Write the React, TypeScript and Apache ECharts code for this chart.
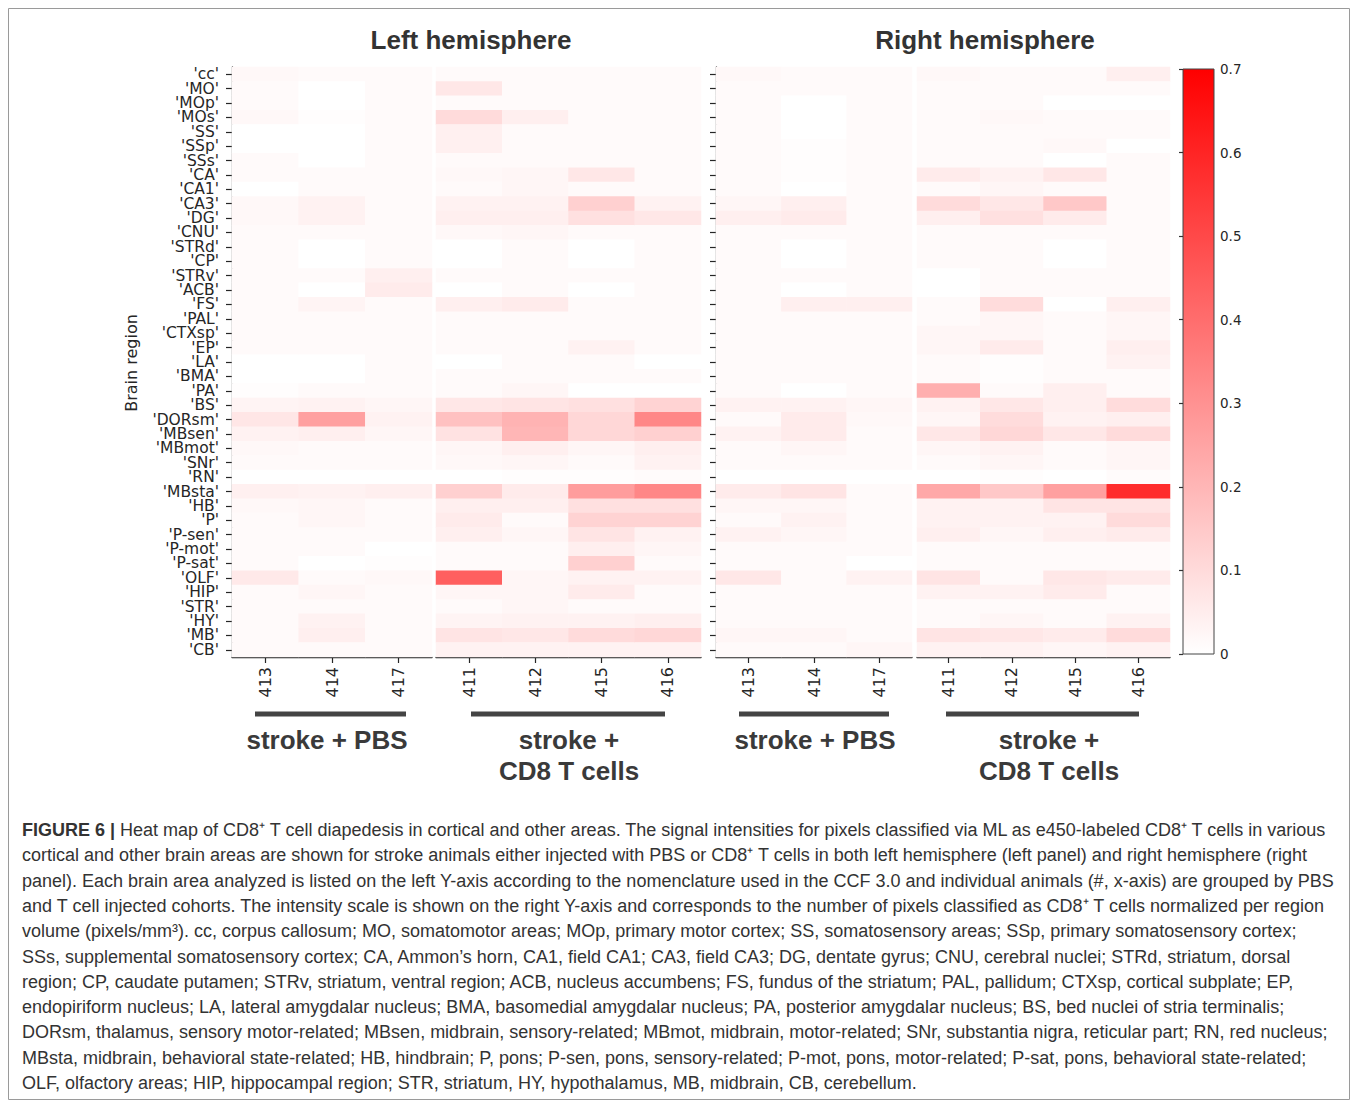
import React, { useEffect, useRef } from "react";
import * as echarts from "echarts";

// ---------- DATA ----------
const regions = [
  "cc", "MO", "MOp", "MOs", "SS", "SSp", "SSs", "CA", "CA1", "CA3", "DG", "CNU", "STRd", "CP",
  "STRv", "ACB", "FS", "PAL", "CTXsp", "EP", "LA", "BMA", "PA", "BS", "DORsm", "MBsen", "MBmot",
  "SNr", "RN", "MBsta", "HB", "P", "P-sen", "P-mot", "P-sat", "OLF", "HIP", "STR", "HY", "MB", "CB",
];
const pbsAnimals = ["413", "414", "417"];
const cd8Animals = ["411", "412", "415", "416"];

// Left hemisphere, stroke + PBS
const L413 = [0.02, 0.015, 0.015, 0.02, 0, 0, 0.015, 0.015, 0, 0.02, 0.02, 0.015, 0.015, 0.015, 0.015, 0.015, 0.015, 0.015, 0.015, 0.015,
  0, 0, 0.005, 0.03, 0.07, 0.035, 0.02, 0.015, 0, 0.04, 0.02, 0.015, 0.015, 0.015, 0.015, 0.06, 0.015, 0.015, 0.015, 0.015, 0.015];
const L414 = [0.015, 0, 0, 0.005, 0, 0, 0, 0.015, 0.015, 0.035, 0.035, 0.015, 0, 0, 0.015, 0, 0.03, 0.015, 0.015, 0.015,
  0, 0, 0.015, 0.035, 0.26, 0.045, 0.015, 0.015, 0, 0.035, 0.025, 0.025, 0.015, 0.015, 0, 0.015, 0.025, 0.015, 0.035, 0.045, 0.015];
const L417 = [0.015, 0.015, 0.015, 0.015, 0.015, 0.015, 0.015, 0.015, 0.015, 0.015, 0.015, 0.015, 0.015, 0.015, 0.045, 0.055, 0.015, 0.015, 0.015, 0.015,
  0.015, 0.015, 0.015, 0.025, 0.035, 0.025, 0.015, 0.015, 0, 0.045, 0.015, 0.015, 0.015, 0, 0.005, 0.02, 0.015, 0.015, 0.015, 0.015, 0.015];
// Left hemisphere, stroke + CD8 T cells
const L411 = [0.015, 0.065, 0.015, 0.1, 0.04, 0.04, 0.015, 0.02, 0.015, 0.035, 0.045, 0.02, 0, 0, 0.015, 0, 0.045, 0.015, 0.015, 0.015,
  0, 0.015, 0.015, 0.065, 0.17, 0.08, 0.025, 0.02, 0, 0.13, 0.045, 0.055, 0.045, 0.015, 0.015, 0.44, 0.025, 0.015, 0.03, 0.075, 0.035];
const L412 = [0.015, 0.015, 0.015, 0.045, 0.015, 0.015, 0.015, 0.025, 0.025, 0.035, 0.045, 0.025, 0.015, 0.015, 0.015, 0.015, 0.055, 0.015, 0.015, 0.015,
  0.015, 0.015, 0.025, 0.075, 0.21, 0.2, 0.045, 0.025, 0.005, 0.055, 0.045, 0.015, 0.025, 0.015, 0.015, 0.025, 0.025, 0.025, 0.035, 0.065, 0.035];
const L415 = [0.015, 0.015, 0.015, 0.015, 0.015, 0.015, 0.015, 0.065, 0.015, 0.13, 0.085, 0.015, 0, 0, 0.015, 0, 0.015, 0.015, 0.015, 0.035,
  0.015, 0.015, 0, 0.085, 0.11, 0.11, 0.025, 0.015, 0.005, 0.27, 0.085, 0.12, 0.075, 0.045, 0.13, 0.035, 0.055, 0.015, 0.035, 0.1, 0.035];
const L416 = [0.015, 0.015, 0.015, 0.015, 0.015, 0.015, 0.015, 0.015, 0.015, 0.035, 0.065, 0.015, 0.015, 0.015, 0.015, 0.015, 0.015, 0.015, 0.015, 0.015,
  0, 0.015, 0, 0.12, 0.33, 0.13, 0.045, 0.035, 0.01, 0.33, 0.085, 0.12, 0.035, 0.025, 0.015, 0.035, 0.015, 0.015, 0.045, 0.11, 0.035];
// Right hemisphere, stroke + PBS
const R413 = [0.02, 0.015, 0.015, 0.015, 0.015, 0.015, 0.015, 0.015, 0.015, 0.025, 0.045, 0.015, 0.015, 0.015, 0.015, 0.015, 0.015, 0.015, 0.015, 0.015,
  0.015, 0.015, 0.015, 0.035, 0.015, 0.035, 0.015, 0.015, 0, 0.055, 0.025, 0.015, 0.035, 0.015, 0.015, 0.065, 0.015, 0.015, 0.015, 0.025, 0.015];
const R414 = [0.015, 0.015, 0, 0, 0, 0.005, 0.005, 0.005, 0, 0.045, 0.055, 0.015, 0, 0, 0.015, 0, 0.045, 0.015, 0.015, 0.015,
  0.015, 0.015, 0, 0.035, 0.055, 0.055, 0.025, 0.015, 0, 0.075, 0.025, 0.035, 0.025, 0.015, 0.015, 0.015, 0.015, 0.015, 0.015, 0.025, 0.015];
const R417 = [0.015, 0.015, 0.015, 0.015, 0.015, 0.015, 0.015, 0.015, 0.015, 0.015, 0.015, 0.015, 0.015, 0.015, 0.015, 0.015, 0.045, 0.015, 0.015, 0.015,
  0.015, 0.015, 0.015, 0.025, 0.02, 0.015, 0.015, 0.015, 0, 0.015, 0.015, 0.015, 0.015, 0.015, 0, 0.035, 0.015, 0.015, 0.015, 0.015, 0.025];
// Right hemisphere, stroke + CD8 T cells
const R411 = [0.02, 0.015, 0.015, 0.015, 0.015, 0.015, 0.015, 0.055, 0.015, 0.1, 0.045, 0.015, 0.015, 0.015, 0, 0, 0.015, 0.015, 0.025, 0.025,
  0.015, 0.015, 0.22, 0.035, 0.025, 0.065, 0.025, 0.015, 0, 0.24, 0.035, 0.035, 0.045, 0.015, 0.015, 0.075, 0.035, 0.015, 0.015, 0.075, 0.035];
const R412 = [0.015, 0.015, 0.015, 0.02, 0.015, 0.015, 0.015, 0.035, 0.025, 0.065, 0.085, 0.015, 0.015, 0.015, 0.015, 0.015, 0.095, 0.025, 0.025, 0.055,
  0.005, 0.005, 0.015, 0.065, 0.095, 0.11, 0.035, 0.025, 0.005, 0.15, 0.035, 0.035, 0.025, 0.015, 0.015, 0.015, 0.035, 0.015, 0.025, 0.065, 0.035];
const R415 = [0.015, 0.015, 0, 0.015, 0.015, 0.02, 0, 0.065, 0.015, 0.15, 0.055, 0.015, 0, 0, 0.015, 0.015, 0, 0.015, 0.015, 0.015,
  0.015, 0.015, 0.045, 0.045, 0.035, 0.065, 0.015, 0.015, 0, 0.26, 0.075, 0.035, 0.045, 0.015, 0.015, 0.065, 0.055, 0.015, 0.015, 0.055, 0.025];
const R416 = [0.045, 0.015, 0, 0.015, 0.015, 0, 0.015, 0.015, 0.015, 0.015, 0.015, 0.015, 0.015, 0.015, 0.015, 0.015, 0.045, 0.025, 0.025, 0.045,
  0.035, 0.015, 0.015, 0.095, 0.045, 0.1, 0.025, 0.025, 0.01, 0.58, 0.075, 0.1, 0.055, 0.015, 0.015, 0.055, 0.015, 0.015, 0.035, 0.1, 0.035];

const scaleMin = 0;
const scaleMax = 0.7;
const scaleStep = 0.1;

const panelTitles = ["Left hemisphere", "Right hemisphere"];
const groupLabels = ["stroke + PBS", "stroke +\nCD8 T cells"];
const yAxisTitle = "Brain region";

const captionBold = "FIGURE 6 |";
const captionLines = [
  " Heat map of CD8\u207A T cell diapedesis in cortical and other areas. The signal intensities for pixels classified via ML as e450-labeled CD8\u207A T cells in various",
  "cortical and other brain areas are shown for stroke animals either injected with PBS or CD8\u207A T cells in both left hemisphere (left panel) and right hemisphere (right",
  "panel). Each brain area analyzed is listed on the left Y-axis according to the nomenclature used in the CCF 3.0 and individual animals (#, x-axis) are grouped by PBS",
  "and T cell injected cohorts. The intensity scale is shown on the right Y-axis and corresponds to the number of pixels classified as CD8\u207A T cells normalized per region",
  "volume (pixels/mm\u00B3). cc, corpus callosum; MO, somatomotor areas; MOp, primary motor cortex; SS, somatosensory areas; SSp, primary somatosensory cortex;",
  "SSs, supplemental somatosensory cortex; CA, Ammon\u2019s horn, CA1, field CA1; CA3, field CA3; DG, dentate gyrus; CNU, cerebral nuclei; STRd, striatum, dorsal",
  "region; CP, caudate putamen; STRv, striatum, ventral region; ACB, nucleus accumbens; FS, fundus of the striatum; PAL, pallidum; CTXsp, cortical subplate; EP,",
  "endopiriform nucleus; LA, lateral amygdalar nucleus; BMA, basomedial amygdalar nucleus; PA, posterior amygdalar nucleus; BS, bed nuclei of stria terminalis;",
  "DORsm, thalamus, sensory motor-related; MBsen, midbrain, sensory-related; MBmot, midbrain, motor-related; SNr, substantia nigra, reticular part; RN, red nucleus;",
  "MBsta, midbrain, behavioral state-related; HB, hindbrain; P, pons; P-sen, pons, sensory-related; P-mot, pons, motor-related; P-sat, pons, behavioral state-related;",
  "OLF, olfactory areas; HIP, hippocampal region; STR, striatum, HY, hypothalamus, MB, midbrain, CB, cerebellum.",
];

// ---------- LAYOUT ----------
const W = 1358;
const H = 1101;
const gridTop = 67;
const gridHeight = 590;
const grids = [
  { left: 232, width: 200 }, // left PBS
  { left: 436, width: 265 }, // left CD8
  { left: 716, width: 196 }, // right PBS
  { left: 917, width: 253 }, // right CD8
];
const cbar = { left: 1183, top: 69, width: 31, height: 585 };

const TICK_FONT = "'DejaVu Sans', sans-serif";
const SANS = "'Liberation Sans', Arial, sans-serif";
const INK = "#262626";

function cells(cols: number[][]) {
  const out: number[][] = [];
  cols.forEach((col, xi) => col.forEach((v, yi) => out.push([xi, yi, v])));
  return out;
}

export default function App() {
  const ref = useRef<HTMLDivElement>(null);

  useEffect(() => {
    if (!ref.current) return;
    const chart = echarts.init(ref.current, undefined, { renderer: "svg", width: W, height: H });

    const panelCols = [
      [L413, L414, L417],
      [L411, L412, L415, L416],
      [R413, R414, R417],
      [R411, R412, R415, R416],
    ];
    const panelCats = [pbsAnimals, cd8Animals, pbsAnimals, cd8Animals];

    const gridOpts: any[] = grids.map((g) => ({
      left: g.left, top: gridTop, width: g.width, height: gridHeight, containLabel: false,
    }));
    gridOpts.push({ left: cbar.left, top: cbar.top, width: cbar.width, height: cbar.height });

    const xAxes: any[] = panelCats.map((cats, i) => ({
      type: "category",
      gridIndex: i,
      data: cats,
      position: "bottom",
      axisLine: { show: true, lineStyle: { color: INK, width: 1.3 } },
      axisTick: { show: true, alignWithLabel: true, length: 6, lineStyle: { color: INK, width: 1.2 } },
      axisLabel: { rotate: 90, fontSize: 16, fontFamily: TICK_FONT, color: INK, margin: 10 },
      splitLine: { show: false },
    }));
    xAxes.push({ type: "value", gridIndex: 4, show: false, min: 0, max: 1 });

    const yAxes: any[] = panelCats.map((_, i) => ({
      type: "category",
      gridIndex: i,
      data: regions,
      inverse: true,
      show: i === 0 || i === 2,
      axisLine: { show: true, lineStyle: { color: INK, width: 1.3 } },
      axisTick: { show: true, alignWithLabel: true, length: 6, lineStyle: { color: INK, width: 1.2 } },
      axisLabel: {
        show: i === 0,
        interval: 0,
        fontSize: 15.5,
        lineHeight: 14,
        fontFamily: TICK_FONT,
        color: INK,
        margin: 13,
        formatter: (v: string) => `'${v}'`,
      },
      splitLine: { show: false },
    }));
    yAxes.push({
      type: "value",
      gridIndex: 4,
      position: "right",
      min: scaleMin,
      max: scaleMax,
      interval: scaleStep,
      axisLine: { show: false },
      axisTick: { show: true, inside: true, length: 4, lineStyle: { color: "#333", width: 1.2 } },
      axisLabel: { fontSize: 13.5, fontFamily: TICK_FONT, color: INK, margin: 6, formatter: (v: number) => (v === 0 ? "0" : v.toFixed(1)) },
      splitLine: { show: false },
    });

    const series: any[] = panelCols.map((cols, i) => ({
      type: "heatmap",
      xAxisIndex: i,
      yAxisIndex: i,
      data: cells(cols),
      itemStyle: { borderWidth: 0 },
      emphasis: { disabled: true },
      progressive: 0,
    }));

    const graphic: any[] = [];
    // outer frame
    graphic.push({
      type: "rect",
      shape: { x: 8.5, y: 8.5, width: 1341, height: 1091 },
      style: { fill: "none", stroke: "#9a9a9a", lineWidth: 1 },
      silent: true,
    });
    // colorbar
    graphic.push({
      type: "rect",
      shape: { x: cbar.left, y: cbar.top, width: cbar.width, height: cbar.height },
      style: {
        fill: {
          type: "linear", x: 0, y: 1, x2: 0, y2: 0,
          colorStops: [{ offset: 0, color: "#ffffff" }, { offset: 1, color: "#ff0000" }],
        },
        stroke: "#444",
        lineWidth: 1,
      },
      z: 0,
      silent: true,
    });
    // panel titles
    [471, 985].forEach((cx, i) => {
      graphic.push({
        type: "text", x: cx, y: 40,
        style: { text: panelTitles[i], font: `bold 26px ${SANS}`, fill: "#333", align: "center", verticalAlign: "middle" },
      });
    });
    // y axis name
    graphic.push({
      type: "text", x: 131, y: 363, rotation: Math.PI / 2,
      style: { text: yAxisTitle, font: `16px ${TICK_FONT}`, fill: INK, align: "center", verticalAlign: "middle" },
    });
    // group bars and labels
    const groups = [
      { x1: 255, x2: 406, label: 0, cx: 327 },
      { x1: 471, x2: 665, label: 1, cx: 569 },
      { x1: 739, x2: 889, label: 0, cx: 815 },
      { x1: 946, x2: 1139, label: 1, cx: 1049 },
    ];
    groups.forEach((g) => {
      graphic.push({
        type: "line",
        shape: { x1: g.x1, y1: 714, x2: g.x2, y2: 714 },
        style: { stroke: "#444", lineWidth: 5 },
      });
      graphic.push({
        type: "text", x: g.cx, y: 724,
        style: {
          text: groupLabels[g.label], font: `bold 26px ${SANS}`, fill: "#3a3a3a",
          align: "center", verticalAlign: "top", lineHeight: 31,
        },
      });
    });
    // caption
    captionLines.forEach((line, i) => {
      const y = 830 + i * 25.3;
      if (i === 0) {
        graphic.push({
          type: "text", x: 22, y,
          style: {
            text: `{b|${captionBold}}{n|${line}}`,
            verticalAlign: "middle",
            rich: {
              b: { font: `bold 18px ${SANS}`, fill: "#333" },
              n: { font: `18px ${SANS}`, fill: "#333" },
            },
          },
        });
      } else {
        graphic.push({
          type: "text", x: 22, y,
          style: { text: line, font: `18px ${SANS}`, fill: "#333", verticalAlign: "middle" },
        });
      }
    });

    chart.setOption({
      animation: false,
      backgroundColor: "#ffffff",
      grid: gridOpts,
      xAxis: xAxes,
      yAxis: yAxes,
      visualMap: {
        show: false,
        type: "continuous",
        min: scaleMin,
        max: scaleMax,
        seriesIndex: [0, 1, 2, 3],
        inRange: { color: ["#ffffff", "#ff0000"] },
      },
      series,
      graphic,
    });

    return () => chart.dispose();
  }, []);

  return (
    <div
      ref={ref}
      style={{ position: "fixed", left: 0, top: 0, width: W, height: H, background: "#fff" }}
    />
  );
}
